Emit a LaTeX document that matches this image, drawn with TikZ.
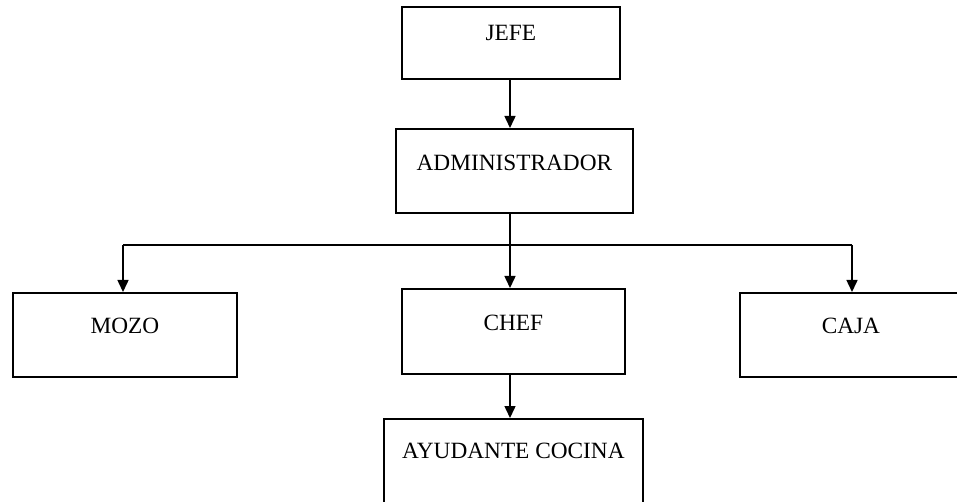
\documentclass[tikz,border=0pt]{standalone}
\usepackage{fontspec}
\setmainfont{Liberation Serif}
\usetikzlibrary{arrows.meta}
\begin{document}
\begin{tikzpicture}[x=1pt,y=-1pt,
  orgbox/.style={draw, line width=1.8pt, inner sep=0pt, anchor=north west,
    font=\fontsize{23.3}{28}\selectfont},
  link/.style={line width=1.5pt},
  arrowlink/.style={link, -{Triangle[length=12pt,width=11pt]}}]
\useasboundingbox (0,0) rectangle (957,502);
\clip (0,0) rectangle (957,502);

% boxes of the organisation chart
\node[orgbox, minimum width=218pt, text height=34pt, text depth=38pt] (jefe) at (401,6) {JEFE};
\node[orgbox, minimum width=237pt, text height=42pt, text depth=42pt] (admin) at (395,128) {ADMINISTRADOR};
\node[orgbox, minimum width=224pt, text height=41pt, text depth=43pt] (mozo) at (12,292) {MOZO};
\node[orgbox, minimum width=223pt, text height=42pt, text depth=43pt] (chef) at (401,288) {CHEF};
\node[orgbox, minimum width=222pt, text height=41pt, text depth=43pt] (caja) at (739,292) {CAJA};
\node[orgbox, minimum width=259pt, text height=40pt, text depth=46pt] (ayud) at (383,418) {AYUDANTE COCINA};

% branching bus below the administrator
\coordinate (bus) at (510,245);
\coordinate (busL) at (123,245);
\coordinate (busR) at (852,245);

\draw[arrowlink] (jefe.south -| bus) -- (bus |- admin.north);
\draw[link] (admin.south -| bus) -- (bus);
\draw[link] (busL) -- (busR);
\draw[arrowlink] (busL) -- (busL |- mozo.north);
\draw[arrowlink] (bus) -- (bus |- chef.north);
\draw[arrowlink] (busR) -- (busR |- caja.north);
\draw[arrowlink] (chef.south -| bus) -- (bus |- ayud.north);
\end{tikzpicture}
\end{document}
